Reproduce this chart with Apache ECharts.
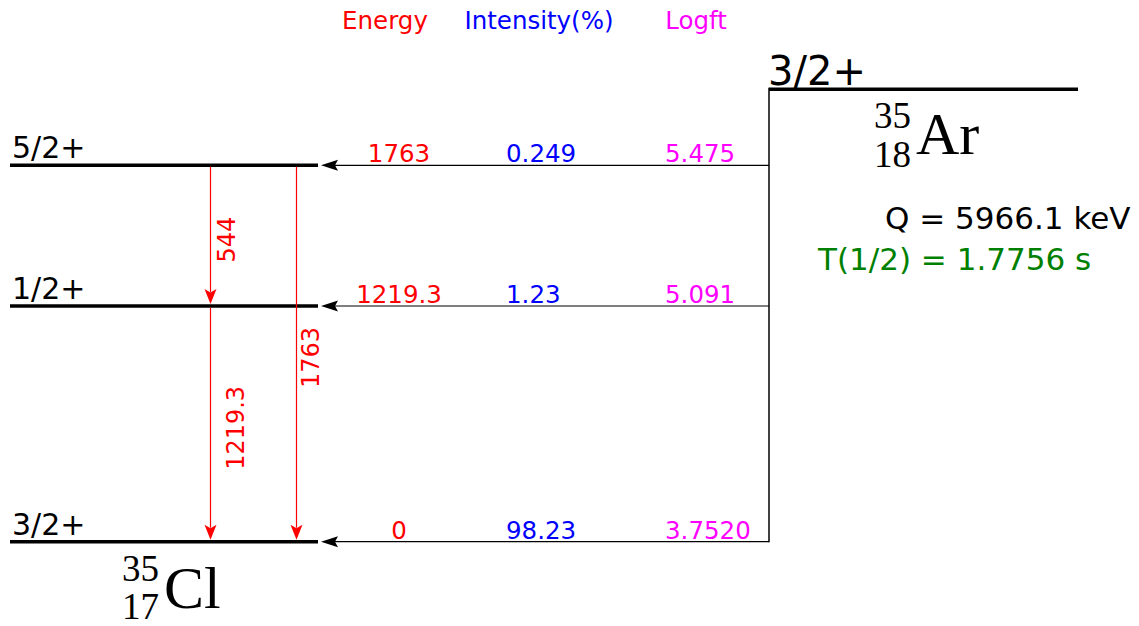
<!DOCTYPE html>
<html><head><meta charset="utf-8">
<script src="https://cdn.jsdelivr.net/npm/echarts@6/dist/echarts.min.js"></script>
<style>html,body{margin:0;padding:0;background:#fff}#c{width:1139px;height:626px}</style>
</head><body><div id="c"></div>
<script>
// ---------------- data ----------------
const levelEnergies = [0, 1219.3, 1763];
const levelSpins = ['3/2+', '1/2+', '5/2+'];
const energyLabels = ['0', '1219.3', '1763'];
const intensities = ['98.23', '1.23', '0.249'];
const logftValues = ['3.7520', '5.091', '5.475'];
const gammaFrom = [2, 1, 2];
const gammaTo = [1, 0, 0];
const gammaLabels = ['544', '1219.3', '1763'];
const columnHeaders = ['Energy', 'Intensity(%)', 'Logft'];
const parentSpin = '3/2+';
const qValueText = 'Q = 5966.1 keV';
const halfLifeText = 'T(1/2) = 1.7756 s';
const daughterNuclide = ['35', '17', 'Cl'];
const parentNuclide = ['35', '18', 'Ar'];

// ---------------- layout (drawing units of the frame) ----------------
const L = {
  levelY: [541.7, 306, 165.3],
  levelX: [10, 318],
  parentY: 89.3,
  parentX: [769, 1078],
  feedX: 769,
  feedTipX: 321,
  colX: [399, 506, 665],
  colAlign: ['center', 'left', 'left'],
  headerX: [385, 539, 696],
  headerBase: 28,
  gammaX: [210.5, 210.5, 296.5],
  gammaLabelOff: [4, 13, 2],
};
const SANS = 'DejaVu Sans';
const SERIF = 'Liberation Serif';

const chart = echarts.init(document.getElementById('c'), null, {renderer: 'svg'});

function renderItem(params, api) {
  const P = (x, y) => api.coord([x, y]);
  const kids = [];
  function line(x1, y1, x2, y2, color, w) {
    const a = P(x1, y1), b = P(x2, y2);
    kids.push({type: 'line', shape: {x1: a[0], y1: a[1], x2: b[0], y2: b[1]},
      style: {stroke: color, lineWidth: w}});
  }
  function poly(pts, color) {
    kids.push({type: 'polygon', shape: {points: pts.map(p => P(p[0], p[1]))},
      style: {fill: color, stroke: null}});
  }
  // text placed by baseline
  function txt(x, base, s, size, color, align, family) {
    const p = P(x, base - 0.3 * size);
    kids.push({type: 'text', x: p[0], y: p[1], style: {text: s, fill: color,
      fontSize: size, fontFamily: family || SANS, align: align, textAlign: align,
      verticalAlign: 'middle', textVerticalAlign: 'middle'}});
  }
  function vtxt(x, yc, s, size, color) {
    const p = P(x, yc);
    kids.push({type: 'text', x: p[0], y: p[1], rotation: Math.PI / 2, style: {text: s, fill: color,
      fontSize: size, fontFamily: SANS, align: 'center', textAlign: 'center',
      verticalAlign: 'top', textVerticalAlign: 'top'}});
  }

  // headers
  const headerColors = ['#ff0000', '#0000ff', '#ff00ff'];
  columnHeaders.forEach((h, i) => txt(L.headerX[i], L.headerBase, h, 24.5, headerColors[i], 'center'));

  // daughter levels
  levelEnergies.forEach((e, i) => {
    const y = L.levelY[i];
    line(L.levelX[0], y, L.levelX[1], y, '#000', 3.5);
    txt(12, y - 8.5, levelSpins[i], 30, '#000', 'left');
    // feeding arrow
    line(L.feedX, y, L.feedTipX + 14, y, '#000', 1.2);
    poly([[L.feedTipX, y], [L.feedTipX + 17, y - 5.5], [L.feedTipX + 14, y], [L.feedTipX + 17, y + 5.5]], '#000');
    const vals = [energyLabels[i], intensities[i], logftValues[i]];
    vals.forEach((v, k) => txt(L.colX[k], y - 4, v, 24.5, headerColors[k], L.colAlign[k]));
  });

  // parent level
  line(L.parentX[0], L.parentY, L.parentX[1], L.parentY, '#000', 3.5);
  line(L.feedX, L.parentY - 1.5, L.feedX, L.levelY[0] + 0.6, '#000', 1.5);
  txt(768, 83, parentSpin, 40, '#000', 'left');

  // gammas
  gammaLabels.forEach((g, i) => {
    const x = L.gammaX[i];
    const y1 = L.levelY[gammaFrom[i]], y2 = L.levelY[gammaTo[i]];
    line(x, y1 + 1.5, x, y2 - 14, '#ff0000', 1.2);
    poly([[x, y2 - 2], [x - 6, y2 - 17], [x, y2 - 13.5], [x + 6, y2 - 17]], '#ff0000');
    vtxt(x + L.gammaLabelOff[i], (y1 + y2) / 2 + 4, g, 24, '#ff0000');
  });

  // Q and half-life
  txt(885, 227, qValueText, 31, '#000', 'left');
  txt(818, 268, halfLifeText, 31, '#008000', 'left');

  // nuclide symbols
  txt(911, 127, parentNuclide[0], 37, '#000', 'right', SERIF);
  txt(911, 166, parentNuclide[1], 37, '#000', 'right', SERIF);
  txt(916, 152, parentNuclide[2], 60, '#000', 'left', SERIF);
  txt(159, 580, daughterNuclide[0], 37, '#000', 'right', SERIF);
  txt(159, 618, daughterNuclide[1], 37, '#000', 'right', SERIF);
  txt(164, 606, daughterNuclide[2], 60, '#000', 'left', SERIF);

  return {type: 'group', children: kids};
}

chart.setOption({
  animation: false,
  backgroundColor: '#fff',
  grid: {left: 0, right: 0, top: 0, bottom: 0},
  xAxis: {type: 'value', min: 0, max: 1139, show: false},
  yAxis: {type: 'value', min: 0, max: 626, inverse: true, show: false},
  series: [{type: 'custom', renderItem: renderItem, data: [[0, 0]], silent: true, clip: false}]
});
</script></body></html>
